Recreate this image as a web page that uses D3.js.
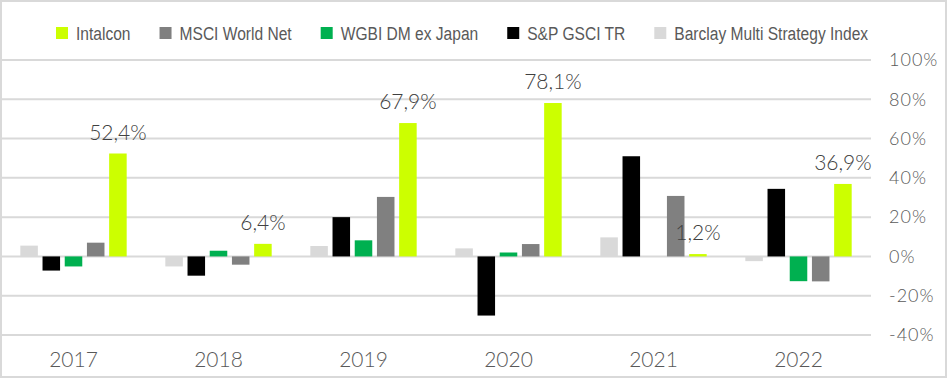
<!DOCTYPE html>
<html>
<head>
<meta charset="utf-8">
<script src="https://cdn.jsdelivr.net/npm/d3@7"></script>
<style>
  html, body { margin: 0; padding: 0; background: #fff; }
  svg { display: block; }
</style>
</head>
<body>
<svg id="chart" width="947" height="378"></svg>
<script>
const years = ["2017", "2018", "2019", "2020", "2021", "2022"];
const seriesNames = ["Barclay Multi Strategy Index", "S&P GSCI TR", "WGBI DM ex Japan", "MSCI World Net", "Intalcon"];
const legendOrder = ["Intalcon", "MSCI World Net", "WGBI DM ex Japan", "S&P GSCI TR", "Barclay Multi Strategy Index"];
const barclay = [5.5, -5.1, 5.3, 4.1, 9.7, -2.4];
const gsci = [-7.2, -9.8, 20.0, -30.1, 51.0, 34.4];
const wgbi = [-5.1, 2.9, 8.2, 2.0, 0.0, -12.6];
const msci = [7.0, -4.2, 30.3, 6.3, 30.8, -12.7];
const intalcon = [52.4, 6.4, 67.9, 78.1, 1.2, 36.9];
const yTicks = [-40, -20, 0, 20, 40, 60, 80, 100];
const colors = {
  "Intalcon": "#CCFF00",
  "MSCI World Net": "#808080",
  "WGBI DM ex Japan": "#00B050",
  "S&P GSCI TR": "#000000",
  "Barclay Multi Strategy Index": "#D9D9D9"
};

const valuesBySeries = {
  "Barclay Multi Strategy Index": barclay,
  "S&P GSCI TR": gsci,
  "WGBI DM ex Japan": wgbi,
  "MSCI World Net": msci,
  "Intalcon": intalcon
};
const rows = years.map((yr, i) => ({
  year: yr,
  values: seriesNames.map(s => ({ series: s, value: valuesBySeries[s][i] }))
}));

const svg = d3.select("#chart");
const W = 947, H = 378;

// outer border
svg.append("rect")
  .attr("x", 1).attr("y", 1).attr("width", W - 2).attr("height", H - 2)
  .attr("fill", "#fff").attr("stroke", "#D9D9D9").attr("stroke-width", 2);

const x0 = d3.scaleBand().domain(years).range([1, 871]).padding(0);
const x1 = d3.scaleBand().domain(seriesNames).range([0, x0.bandwidth()])
  .paddingInner(0.21).paddingOuter(0.87);
const y = d3.scaleLinear().domain([-40, 100]).range([335, 60]);

// gridlines
svg.append("g")
  .selectAll("line").data(yTicks).join("line")
  .attr("x1", 1).attr("x2", 871)
  .attr("y1", d => y(d)).attr("y2", d => y(d))
  .attr("stroke", "#D9D9D9").attr("stroke-width", 2);

// right axis labels
const yAxis = d3.axisRight(y).tickValues(yTicks).tickFormat(d => d + "%").tickSize(0).tickPadding(0);
const gy = svg.append("g").attr("transform", "translate(889,0)").call(yAxis);
gy.select(".domain").remove();
gy.selectAll("text")
  .attr("font-family", "Lato, 'Open Sans', sans-serif")
  .attr("font-weight", 300)
  .attr("font-size", "18px")
  .attr("letter-spacing", "1px")
  .attr("fill", "#595959");

// x axis labels
const xAxis = d3.axisBottom(x0).tickSize(0).tickPadding(0);
const gx = svg.append("g").attr("transform", "translate(0,352)").call(xAxis);
gx.select(".domain").remove();
gx.selectAll("text")
  .attr("font-family", "Lato, 'Open Sans', sans-serif")
  .attr("font-weight", 300)
  .attr("font-size", "21px")
  .attr("fill", "#595959");

// bars
const groups = svg.append("g").selectAll("g").data(rows).join("g")
  .attr("transform", d => `translate(${x0(d.year)},0)`);
groups.selectAll("rect").data(d => d.values).join("rect")
  .attr("x", d => x1(d.series))
  .attr("width", x1.bandwidth())
  .attr("y", d => y(Math.max(0, d.value)))
  .attr("height", d => Math.abs(y(d.value) - y(0)))
  .attr("fill", d => colors[d.series]);

// data labels for Intalcon
const fmt = d3.formatLocale({ decimal: ",", thousands: ".", grouping: [3], currency: ["", "€"] }).format(".1f");
svg.append("g").selectAll("text").data(rows).join("text")
  .attr("x", d => x0(d.year) + x1("Intalcon") + x1.bandwidth() / 2)
  .attr("y", d => y(d.values[4].value) - 14)
  .attr("text-anchor", "middle")
  .attr("font-family", "Lato, 'Open Sans', sans-serif")
  .attr("font-weight", 300)
  .attr("font-size", "21px")
  .attr("fill", "#404040")
  .text(d => fmt(d.values[4].value) + "%");

// legend
const legend = svg.append("g").attr("transform", "translate(56,27)");
const sx = 0.82;
let lx = 0;
legendOrder.forEach(name => {
  const g = legend.append("g").attr("transform", `translate(${lx},0)`);
  g.append("rect").attr("width", 12).attr("height", 12).attr("fill", colors[name]);
  const t = g.append("text")
    .attr("transform", `translate(20,13) scale(${sx},1)`)
    .attr("font-family", "'Liberation Sans', Arial, sans-serif")
    .attr("font-size", "19px")
    .attr("fill", "#595959")
    .text(name);
  lx += 20 + t.node().getComputedTextLength() * sx + 29;
});
</script>
</body>
</html>
